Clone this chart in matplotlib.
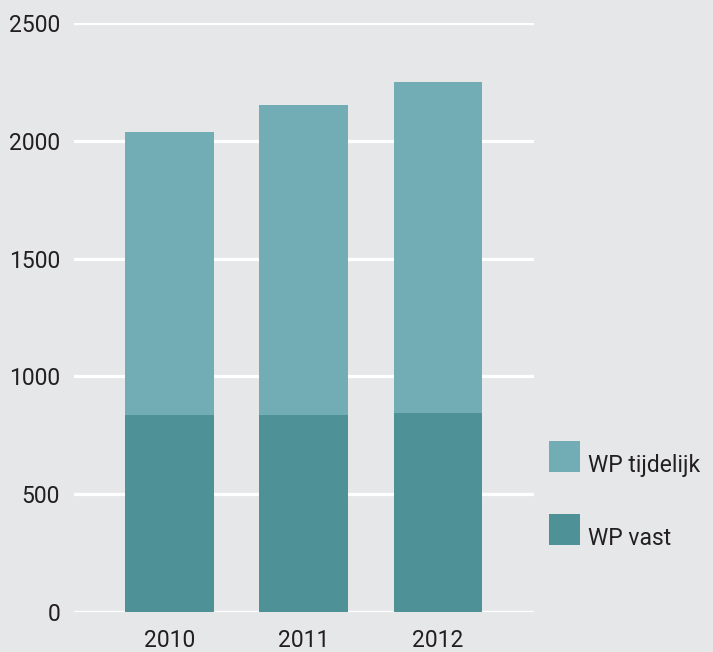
import matplotlib
matplotlib.use("Agg")
import matplotlib.pyplot as plt
from matplotlib.patches import Rectangle

years = ["2010", "2011", "2012"]
wp_vast = [835, 835, 845]
wp_tijdelijk = [1202, 1317, 1405]
yticks = [0, 500, 1000, 1500, 2000, 2500]

bg = "#e6e7e8"
c_vast = "#4e9196"
c_tijd = "#72adb5"
txt = "#231f20"

plt.rcParams['font.family'] = ['Roboto', 'DejaVu Sans']

fig = plt.figure(figsize=(7.13, 6.52), dpi=100, facecolor=bg)
ax = fig.add_axes([74/713, 40/652, 460/713, 589/652])
ax.set_facecolor(bg)

x = list(range(len(years)))
ax.bar(x, wp_vast, width=0.66, color=c_vast, zorder=3, label="WP vast")
ax.bar(x, wp_tijdelijk, width=0.66, bottom=wp_vast, color=c_tijd, zorder=3, label="WP tijdelijk")

ax.set_xlim(-0.71, 2.714)
ax.set_ylim(0, 2500)
ax.set_yticks(yticks)
ax.set_yticklabels([str(v) for v in yticks])
ax.set_xticks(x)
ax.set_xticklabels(years)
ax.yaxis.grid(True, color="white", linewidth=2.3, zorder=0)
ax.set_axisbelow(True)
for s in ax.spines.values():
    s.set_visible(False)
ax.tick_params(axis='both', length=0, labelsize=16.5, labelcolor=txt)
ax.tick_params(axis='y', pad=10)
ax.tick_params(axis='x', pad=12)

# legend (manual, text baseline aligned with swatch bottom)
W, H = 713, 652
for (label, col, top) in [("WP tijdelijk", c_tijd, 441), ("WP vast", c_vast, 514)]:
    fig.add_artist(Rectangle((549/W, 1 - (top + 31)/H), 31/W, 31/H,
                             transform=fig.transFigure, color=col, lw=0))
    fig.text(588/W, 1 - (top + 31)/H, label, fontsize=16.5, color=txt,
             va='baseline', ha='left')

fig.savefig("out.png", dpi=100, facecolor=bg)
